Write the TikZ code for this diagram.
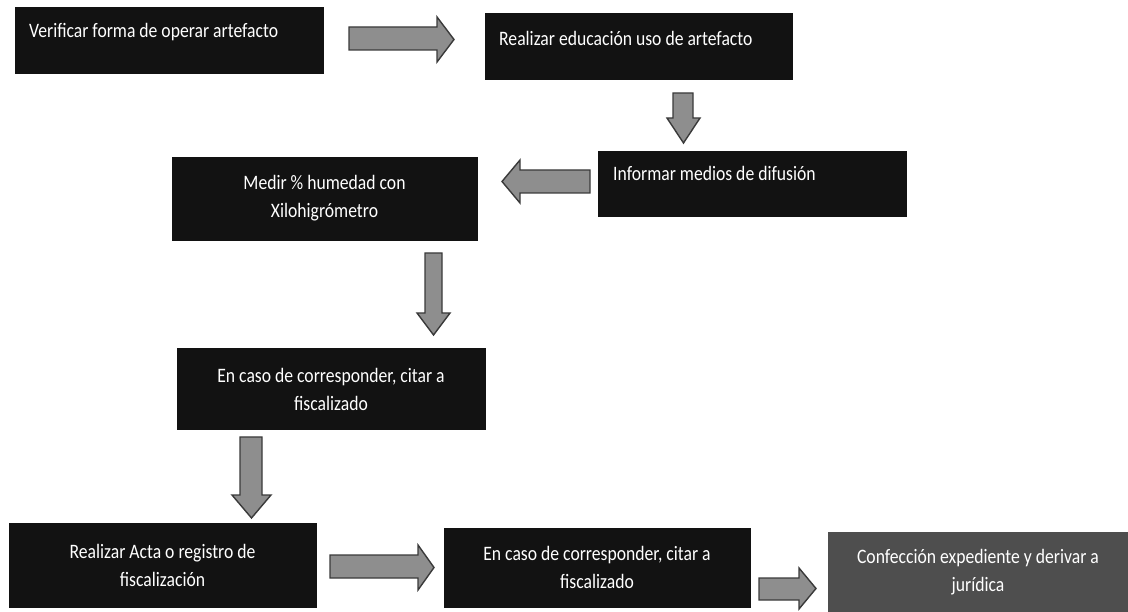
\documentclass[tikz,border=0pt]{standalone}
\usepackage{fontspec}
\setmainfont{Carlito}[FakeStretch=0.86]
\usetikzlibrary{calc}
\definecolor{boxfill}{HTML}{121212}
\definecolor{boxlight}{HTML}{4E4E4E}
\definecolor{arrfill}{HTML}{8E8E8E}
\definecolor{arrdraw}{HTML}{3A3A3A}
\tikzset{
  box/.style={draw=boxfill, fill=boxfill, inner sep=0pt, text=white, align=center,
    font=\fontsize{20.5}{28}\selectfont},
  boxl/.style={box, draw=boxlight, fill=boxlight},
  txt/.style={text=white, inner sep=0pt, anchor=west, font=\fontsize{20.5}{28}\selectfont},
  barrow/.style={fill=arrfill, draw=arrdraw, line width=1.4pt, line join=miter}
}
\begin{document}
\begin{tikzpicture}[x=1pt, y=-1pt]
\useasboundingbox (0,0) rectangle (1128,612);
% boxes
\node[box, minimum width=308pt, minimum height=66pt] (b1) at (169,40) {};
\node[txt] (t1) at (29,32) {Verificar forma de operar artefacto};
\node[box, minimum width=307pt, minimum height=66pt] (b2) at (638.5,46) {};
\node[txt] (t2) at (499,38) {Realizar educación uso de artefacto};
\node[box, minimum width=308pt, minimum height=65pt] (b3) at (752,183.5) {};
\node[txt] (t3) at (613,173) {Informar medios de difusión};
\node[box, minimum width=305pt, minimum height=83pt] (b4) at (324.5,198.5) {Medir \% humedad con\\Xilohigrómetro};
\node[box, minimum width=308pt, minimum height=81pt] (b5) at (331,389) {En caso de corresponder, citar a\\fiscalizado};
\node[box, minimum width=307pt, minimum height=84pt] (b6) at (162.5,565) {Realizar Acta o registro de\\fiscalización};
\node[box, minimum width=306pt, minimum height=79pt] (b7) at (597,567.5) {En caso de corresponder, citar a\\fiscalizado};
\node[boxl, minimum width=300pt, minimum height=80pt] (b8) at (978,572) {Confección expediente y derivar a\\jurídica};
% block arrows
\draw[barrow] (349,27) -- (437,27) -- (437,17) -- (454,39.5) -- (437,62) -- (437,50) -- (349,50) -- cycle;
\draw[barrow] (673,93) -- (693,93) -- (693,118) -- (700,118) -- (683.5,143) -- (667,118) -- (673,118) -- cycle;
\draw[barrow] (590,170) -- (520,170) -- (520,160) -- (502,181.5) -- (520,203) -- (520,193) -- (590,193) -- cycle;
\draw[barrow] (425,253) -- (442,253) -- (442,313) -- (450,313) -- (433.5,335) -- (417,313) -- (425,313) -- cycle;
\draw[barrow] (240,437) -- (262,437) -- (262,495) -- (271,495) -- (251.5,518) -- (232,495) -- (240,495) -- cycle;
\draw[barrow] (330,555) -- (418,555) -- (418,545) -- (434,567.5) -- (418,590) -- (418,578) -- (330,578) -- cycle;
\draw[barrow] (759,578) -- (799,578) -- (799,568) -- (816,588.5) -- (799,609) -- (799,600) -- (759,600) -- cycle;
\end{tikzpicture}
\end{document}
